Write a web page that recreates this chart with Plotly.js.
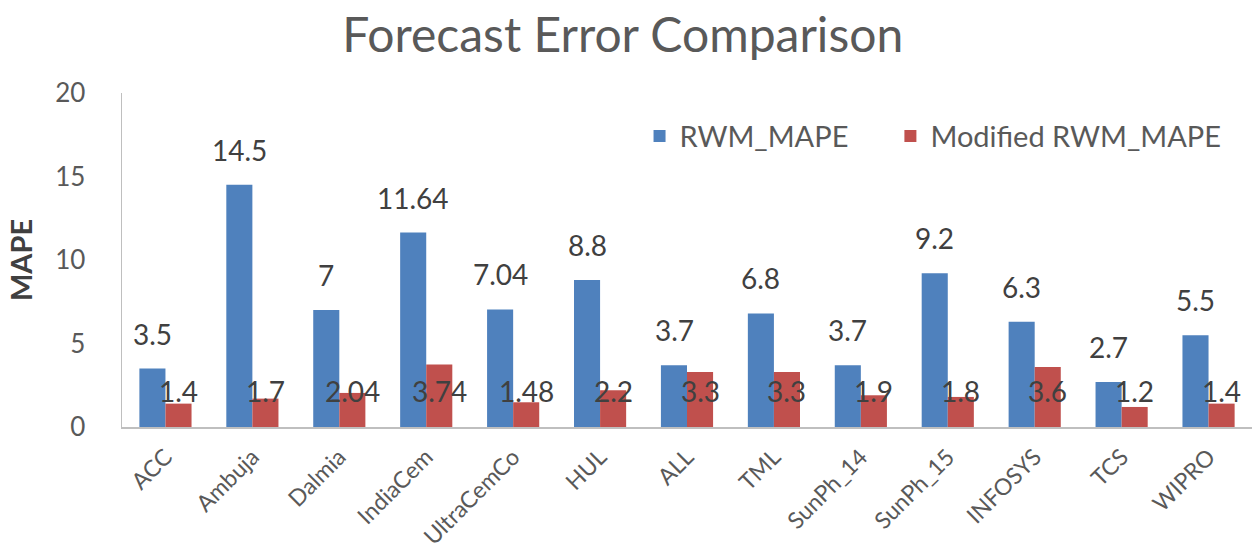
<!DOCTYPE html>
<html>
<head>
<meta charset="utf-8">
<script src="https://cdn.plot.ly/plotly-3.0.1.min.js"></script>
<style>html,body{margin:0;padding:0;background:#fff;}#chart{width:1258px;height:549px;}</style>
</head>
<body>
<div id="chart"></div>
<script>
const categories = ["ACC","Ambuja","Dalmia","IndiaCem","UltraCemCo","HUL","ALL","TML","SunPh_14","SunPh_15","INFOSYS","TCS","WIPRO"];
const rwmMape = [3.5,14.5,7,11.64,7.04,8.8,3.7,6.8,3.7,9.2,6.3,2.7,5.5];
const modifiedRwmMape = [1.4,1.7,2.04,3.74,1.48,2.2,3.3,3.3,1.9,1.8,3.6,1.2,1.4];
const seriesNames = ["RWM_MAPE","Modified RWM_MAPE"];
const yTicks = [0,5,10,15,20];

const FONT = "Lato, 'Open Sans', sans-serif";
const BLUE = "#4F81BD", RED = "#C0504D";

const traces = [
  {type:"bar", name:seriesNames[0], x:categories, y:rwmMape, marker:{color:BLUE}, legend:"legend"},
  {type:"bar", name:seriesNames[1], x:categories, y:modifiedRwmMape, marker:{color:RED}, legend:"legend2"}
];

const annotations = [];
categories.forEach((c,i)=>{
  annotations.push({x:c, y:rwmMape[i], xref:"x", yref:"y", text:String(rwmMape[i]), showarrow:false,
    xshift:-13, yshift:35, yanchor:"middle", font:{family:FONT, size:28, color:"#404040"}});
  annotations.push({x:c, y:0, xref:"x", yref:"y", text:String(modifiedRwmMape[i]), showarrow:false,
    xshift:13, yshift:36, yanchor:"middle", font:{family:FONT, size:28, color:"#404040"}});
});

const legendFont = {family:FONT, size:29, color:"#595959"};
const layout = {
  width:1258, height:549,
  margin:{l:122, r:6, t:93, b:122},
  paper_bgcolor:"#fff", plot_bgcolor:"#fff",
  font:{family:FONT, color:"#595959"},
  title:{text:"Forecast Error Comparison", x:0.495, xref:"container", xanchor:"center",
    y:1-35/549, yref:"container", yanchor:"middle", font:{family:FONT, size:48, color:"#595959"}},
  barmode:"group", bargap:0.4, bargroupgap:0,
  showlegend:true,
  legend:{orientation:"h", x:0.458, xanchor:"left", y:0.871, yanchor:"middle",
    font:legendFont, bgcolor:"rgba(0,0,0,0)"},
  legend2:{orientation:"h", x:0.680, xanchor:"left", y:0.871, yanchor:"middle",
    font:legendFont, bgcolor:"rgba(0,0,0,0)"},
  xaxis:{type:"category", showgrid:false, zeroline:false, showline:true, linecolor:"#BFBFBF", linewidth:1.5,
    ticks:"", tickangle:-45, tickfont:{family:FONT, size:23, color:"#595959"}, ticklabelstandoff:6},
  yaxis:{range:[0,20], tickvals:yTicks, showgrid:false, zeroline:false, showline:true, linecolor:"#BFBFBF", linewidth:1.5,
    ticks:"", tickfont:{family:FONT, size:26, color:"#595959"}, ticklabelstandoff:30,
    title:{text:"<b>MAPE</b>", standoff:14, font:{family:FONT, size:29, color:"#404040"}}},
  annotations:annotations
};

Plotly.newPlot("chart", traces, layout, {displayModeBar:false, staticPlot:true});
</script>
</body>
</html>
